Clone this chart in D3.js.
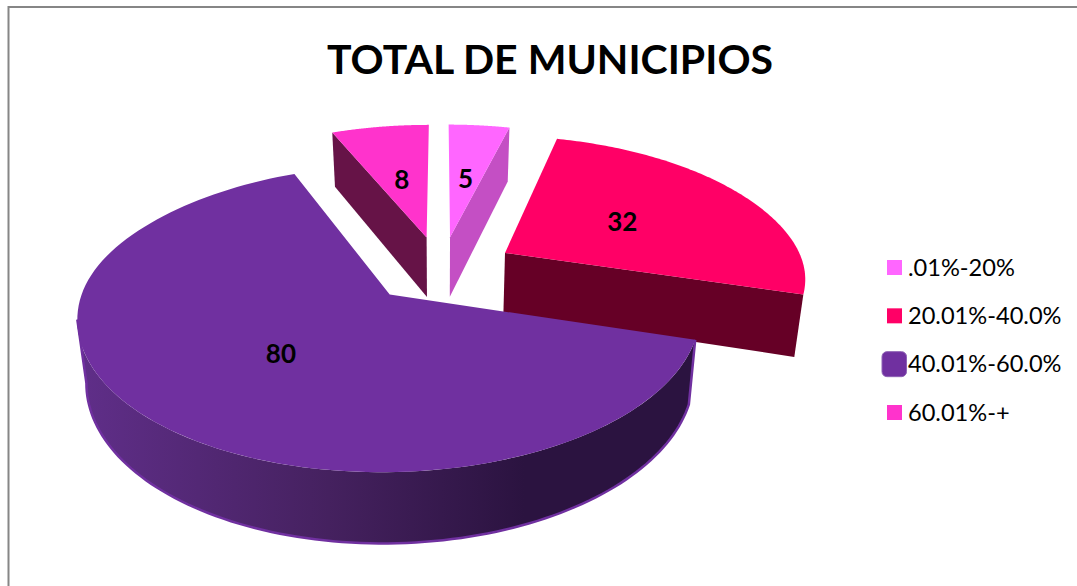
<!DOCTYPE html>
<html>
  <head>
    <meta http-equiv="Content-Type" content="text/html; charset=utf-8" />
    <script src="https://d3js.org/d3.v7.min.js"></script>
    <style>
      body { margin: 0; background: #fff; overflow: hidden; }
      text { font-family: Lato, "Open Sans", sans-serif; fill: #000; }
    </style>
  </head>
  <body>
    <div id="wrapper"></div>
    <script>

const categories = [".01%-20%", "20.01%-40.0%", "40.01%-60.0%", "60.01%-+"]
const values = [5, 32, 80, 8]
const topColors = ["#FF66FF", "#FF0066", "#7030A0", "#FF33CC"]
const wallColors = ["#C44FC4", "#660026", "#2B1340", "#661347"]
const title = "TOTAL DE MUNICIPIOS"

const w = 1077
const h = 586

// pie plane -> screen, far side shrinks more than near side
const explodeX = 0.25
const explodeY = 0.23
const labelAt = 0.49
const cx = 441
const cy = 269
const scaleX = d3.scaleLinear().domain([-1, 1]).range([cx - 300, cx + 300])
const scaleY = d3.scaleLinear().domain([-1, 1]).range([cy - 145, cy + 145])
const color = d3.scaleOrdinal().domain(categories).range(topColors)
const legendY = d3.scalePoint().domain(categories).range([267.5, 412.5])

function project(u, v) {
  const k = 0.165 - 0.025 * Math.tanh(v * 3)
  const d = 1 - k * v
  return [scaleX(u / d), scaleY(v / d)]
}

// lower face of the pie: same point, pushed down and pulled slightly to the middle
function drop(p) {
  return [p[0] - (p[0] - cx) * 0.025, p[1] * 1.05 + 47.6]
}

const slices = d3.pie().sort(null).value(d => d)(values)

function offset(s) {
  const mid = (s.startAngle + s.endAngle) / 2
  return [explodeX * Math.sin(mid), -explodeY * Math.cos(mid)]
}

function rimPoint(s, a) {
  const o = offset(s)
  return project(o[0] + Math.sin(a), o[1] - Math.cos(a))
}

function rim(s, a0, a1) {
  return d3.range(0, 121).map(i => rimPoint(s, a0 + (a1 - a0) * i / 120))
}

const line = d3.line()

const svg = d3.select("#wrapper").append("svg")
  .attr("width", w)
  .attr("height", h)
  .style("display", "block")

// chart frame
svg.append("rect")
  .attr("x", 8.5).attr("y", 7)
  .attr("width", w + 20).attr("height", h + 20)
  .attr("fill", "none")
  .attr("stroke", "#868686")
  .attr("stroke-width", 2)

svg.append("text")
  .attr("x", 550).attr("y", 73.5)
  .attr("text-anchor", "middle")
  .attr("font-size", 41)
  .attr("font-weight", 700)
  .text(title)

const grad = svg.append("defs").append("linearGradient")
  .attr("id", "rimFill")
  .attr("gradientUnits", "userSpaceOnUse")
  .attr("x1", 85).attr("x2", 695).attr("y1", 0).attr("y2", 0)
grad.append("stop").attr("offset", 0).attr("stop-color", "#5F2E88")
grad.append("stop").attr("offset", 0.4).attr("stop-color", "#45215F")
grad.append("stop").attr("offset", 0.72).attr("stop-color", "#2B1340")
grad.append("stop").attr("offset", 1).attr("stop-color", "#2B1340")

// back to front so the big slice ends up on top
const order = [0, 3, 1, 2]
order.forEach(i => {
  const s = slices[i]
  const o = offset(s)
  const apex = project(o[0], o[1])
  const g = svg.append("g")

  if (i === 2) {
    // round side of the big slice, only up to its leftmost point
    const full = rim(s, s.startAngle, Math.PI * 1.6)
    const top = full.slice(0, d3.leastIndex(full, (a, b) => a[0] - b[0]) + 1)
    const bottom = top.map(drop)
    g.append("path")
      .attr("d", line(top.concat(bottom.slice().reverse())) + "Z")
      .attr("fill", "url(#rimFill)")
    g.append("path")
      .attr("d", line([top[0]].concat(bottom, [top[top.length - 1]])))
      .attr("fill", "none")
      .attr("stroke", "#7030A0")
      .attr("stroke-width", 2.5)
  } else {
    // flat cut face that looks at us
    const a = i === 3 ? s.startAngle : s.endAngle
    const edge = rimPoint(s, a)
    g.append("path")
      .attr("d", line([apex, edge, drop(edge), drop(apex)]) + "Z")
      .attr("fill", wallColors[i])
  }

  g.append("path")
    .attr("d", line([apex].concat(rim(s, s.startAngle, s.endAngle))) + "Z")
    .attr("fill", color(categories[i]))
})

// data labels
slices.forEach((s, i) => {
  const o = offset(s)
  const mid = (s.startAngle + s.endAngle) / 2
  const p = project(o[0] + labelAt * Math.sin(mid), o[1] - labelAt * Math.cos(mid))
  svg.append("text")
    .attr("x", p[0]).attr("y", p[1] + 10)
    .attr("text-anchor", "middle")
    .attr("font-size", 26)
    .attr("font-weight", 700)
    .text(values[i])
})

// legend
categories.forEach((c, i) => {
  const y = legendY(c)
  const big = i === 2
  svg.append("rect")
    .attr("x", big ? 882 : 887)
    .attr("y", y - (big ? 12.5 : 7.5))
    .attr("width", big ? 24.5 : 15)
    .attr("height", big ? 25 : 15)
    .attr("rx", big ? 5 : 0)
    .attr("fill", color(c))
    .attr("stroke", big ? "#8E62B5" : "none")
  svg.append("text")
    .attr("x", 908).attr("y", y + 8)
    .attr("font-size", 23.6)
    .text(c)
})

    </script>
  </body>
</html>
